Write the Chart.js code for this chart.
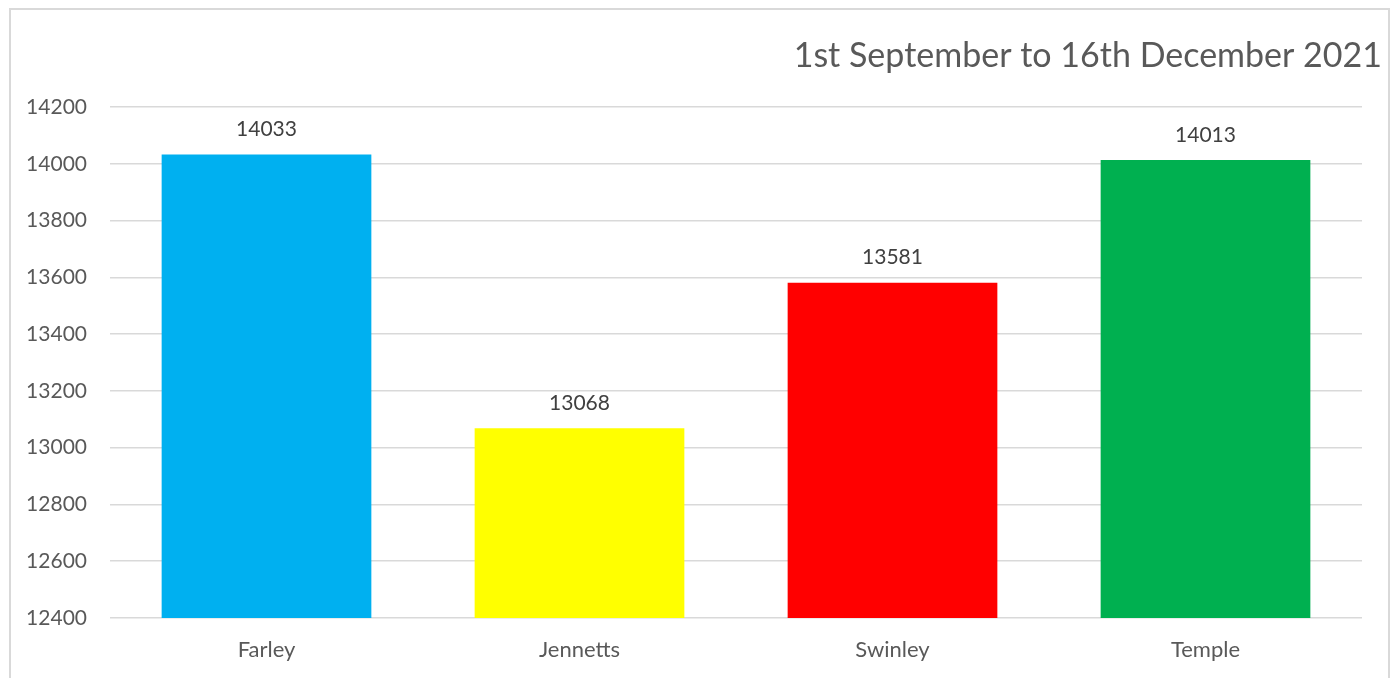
<!DOCTYPE html>
<html><head><meta charset="utf-8">
<script src="https://cdn.jsdelivr.net/npm/chart.js@4.4.0/dist/chart.umd.min.js"></script>
<style>
html,body{margin:0;padding:0;background:#fff;overflow:hidden;}
#frame{position:absolute;left:9px;top:8px;width:1381px;height:700px;border:2px solid #d9d9d9;box-sizing:border-box;}
#wrap{position:absolute;left:0;top:0;width:1400px;height:678px;}
</style></head>
<body>
<div id="frame"></div>
<div id="wrap"><canvas id="c" width="1400" height="678"></canvas></div>
<script>
const categories = ["Farley", "Jennetts", "Swinley", "Temple"];
const values = [14033, 13068, 13581, 14013];
const barColors = ["#00B0F0", "#FFFF00", "#FF0000", "#00B050"];
const yMin = 12400, yMax = 14200, yStep = 200;
const titleText = "1st September to 16th December 2021";
const FONT = "Lato, 'Open Sans', sans-serif";

const labelPlugin = {
  id: 'barLabels',
  afterDatasetsDraw(chart) {
    const ctx = chart.ctx;
    const meta = chart.getDatasetMeta(0);
    ctx.save();
    ctx.fillStyle = '#404040';
    ctx.font = '21px ' + FONT;
    ctx.textAlign = 'center';
    ctx.textBaseline = 'middle';
    meta.data.forEach((bar, i) => {
      ctx.fillText(String(values[i]), bar.x, bar.y - 25);
    });
    ctx.restore();
  }
};

const titlePlugin = {
  id: 'rightTitle',
  afterDraw(chart) {
    const ctx = chart.ctx;
    ctx.save();
    ctx.fillStyle = '#595959';
    ctx.font = '34px ' + FONT;
    ctx.textAlign = 'right';
    ctx.textBaseline = 'middle';
    ctx.fillText(titleText, 1382, 56);
    ctx.restore();
  }
};

new Chart(document.getElementById('c'), {
  type: 'bar',
  data: {
    labels: categories,
    datasets: [{
      data: values,
      backgroundColor: barColors,
      borderWidth: 0,
      barPercentage: 0.67,
      categoryPercentage: 1.0
    }]
  },
  options: {
    responsive: false,
    animation: false,
    layout: { padding: { left: 0, right: 38, top: 107, bottom: 16 } },
    plugins: {
      legend: { display: false },
      tooltip: { enabled: false },
      title: { display: false }
    },
    scales: {
      x: {
        afterFit(scale) { scale.height = 44; },
        grid: { display: false, drawTicks: false },
        border: { display: false },
        ticks: { color: '#595959', font: { family: FONT, size: 22 }, padding: 19 }
      },
      y: {
        min: yMin, max: yMax,
        afterFit(scale) { scale.width = 110; },
        grid: { color: '#d9d9d9', lineWidth: 1.5, drawTicks: false },
        border: { display: false },
        ticks: {
          stepSize: yStep, color: '#595959', font: { family: FONT, size: 21 }, padding: 23,
          callback: (v) => String(v)
        }
      }
    }
  },
  plugins: [labelPlugin, titlePlugin]
});
</script>
</body></html>
